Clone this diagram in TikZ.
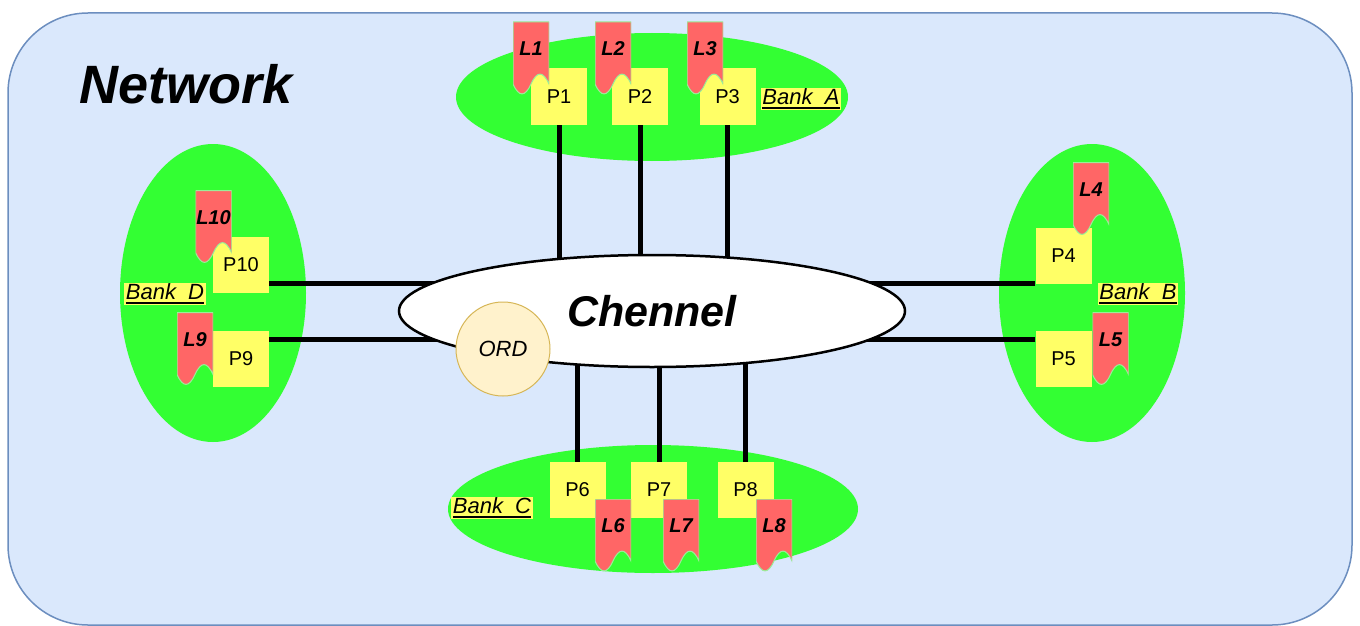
\documentclass[tikz,border=0pt]{standalone}
\usepackage{fontspec}
\setmainfont{Liberation Sans}
\usetikzlibrary{shapes.geometric,calc}
\pgfdeclarelayer{back}
\pgfdeclarelayer{wires}
\pgfsetlayers{back,wires,main}

\definecolor{netfill}{HTML}{DAE8FC}
\definecolor{netedge}{HTML}{6C8EBF}
\definecolor{bankgreen}{HTML}{33FF33}
\definecolor{portyellow}{HTML}{FFFF66}
\definecolor{flagred}{HTML}{FF6666}
\definecolor{flagedge}{HTML}{99EE99}
\definecolor{ordfill}{HTML}{FFF2CC}
\definecolor{ordedge}{HTML}{D6B656}

\newcommand{\fsz}[1]{\fontsize{#1}{#1}\selectfont}
% text with a heavy underline below the baseline
\newcommand{\thickul}[1]{\setbox0=\hbox{#1}\copy0\llap{\rule[-4pt]{\wd0}{1.6pt}}}

\tikzset{
  bank/.style={ellipse, fill=bankgreen, draw=none, inner sep=0pt},
  port/.style={rectangle, fill=portyellow, draw=none, minimum width=56pt,
    minimum height=56pt, inner sep=0pt, font=\fsz{20}},
  banklabel/.style={rectangle, fill=portyellow, inner xsep=1.5pt, inner ysep=1pt,
    font=\itshape\fsz{22}},
  wire/.style={line width=5pt, black},
  flagbox/.style={rectangle, draw=none, minimum width=36pt, minimum height=73pt,
    inner sep=0pt, font=\bfseries\itshape\fsz{20}, text height=15pt, text depth=21pt,
    path picture={
      \coordinate (fc) at (path picture bounding box.center);
      \filldraw[fill=flagred, draw=flagedge, line width=1pt]
        ($(fc)+(-18,-36.5)$) -- ($(fc)+(18,-36.5)$) -- ($(fc)+(18,25.5)$)
        .. controls ($(fc)+(12,12.3)$) and ($(fc)+(6,12.3)$) .. ($(fc)+(0,25.5)$)
        .. controls ($(fc)+(-6,38.7)$) and ($(fc)+(-12,38.7)$) .. ($(fc)+(-18,25.5)$) -- cycle;
    }},
}

\begin{document}
\begin{tikzpicture}[x=1pt, y=-1pt]
\useasboundingbox (0,0) rectangle (1360,626);

\begin{pgfonlayer}{back}
  % network frame
  \draw[fill=netfill, draw=netedge, line width=1.5pt, rounded corners=80pt]
    (8,13) rectangle (1352,625);
  % the four banks
  \node[bank, minimum width=392pt, minimum height=128pt] (bankA) at (652,97) {};
  \node[bank, minimum width=186pt, minimum height=298pt] (bankB) at (1092,293) {};
  \node[bank, minimum width=410pt, minimum height=128pt] (bankC) at (653,509) {};
  \node[bank, minimum width=186pt, minimum height=298pt] (bankD) at (213,293) {};
\end{pgfonlayer}

\node[font=\bfseries\itshape\fsz{54}] (net) at (186,84) {Network};

% channel and orderer
\node[ellipse, fill=white, draw=black, line width=2.5pt, minimum width=506pt,
  minimum height=112pt, inner sep=0pt, font=\bfseries\itshape\fsz{43}] (ch) at (652,311) {Chennel};
\node[circle, fill=ordfill, draw=ordedge, line width=1pt, minimum size=94pt,
  inner sep=0pt, font=\itshape\fsz{22}] (ord) at (503,349) {ORD};

% peers
\node[port] (P1) at (559,96.5) {P1};
\node[port] (P2) at (640,96.5) {P2};
\node[port] (P3) at (727.5,96.5) {P3};
\node[port] (P4) at (1063.5,255.5) {P4};
\node[port] (P5) at (1063.5,359) {P5};
\node[port] (P6) at (577.5,490) {P6};
\node[port] (P7) at (659,490) {P7};
\node[port] (P8) at (745.5,490) {P8};
\node[port] (P9) at (241,359) {P9};
\node[port] (P10) at (241,265) {P10};

% ledgers
\node[flagbox] (L1) at (531,58.5) {L1};
\node[flagbox] (L2) at (613,58.5) {L2};
\node[flagbox] (L3) at (705,58.5) {L3};
\node[flagbox] (L4) at (1091,199) {L4};
\node[flagbox] (L5) at (1110.5,349) {L5};
\node[flagbox] (L6) at (613,535.5) {L6};
\node[flagbox] (L7) at (681,535.5) {L7};
\node[flagbox] (L8) at (774,535.5) {L8};
\node[flagbox] (L9) at (195,349) {L9};
\node[flagbox] (L10) at (213.5,227) {L10};

% bank names
\node[banklabel] (labA) at (801,99) {\thickul{Bank\ \ A}};
\node[banklabel] (labB) at (1138,294) {\thickul{Bank\ \ B}};
\node[banklabel] (labC) at (492,508) {\thickul{Bank\ \ C}};
\node[banklabel] (labD) at (165,294) {\thickul{Bank\ \ D}};

% peer links into the channel
\begin{pgfonlayer}{wires}
  \foreach \p in {P1,P2,P3}
    \draw[wire] (\p.south) -- (\p.south |- ch.center);
  \foreach \p in {P6,P7,P8}
    \draw[wire] (\p.north) -- (\p.north |- ch.center);
  \draw[wire] ([yshift=-18pt]P10.east) -- ([yshift=-18pt]P10.east -| ch.center);
  \draw[wire] ([yshift=-9pt]P9.north east) -- ([yshift=-9pt]P9.north east -| ch.center);
  \draw[wire] (P4.south west) -- (P4.south west -| ch.center);
  \draw[wire] ([yshift=-9pt]P5.north west) -- ([yshift=-9pt]P5.north west -| ch.center);
\end{pgfonlayer}
\end{tikzpicture}
\end{document}
